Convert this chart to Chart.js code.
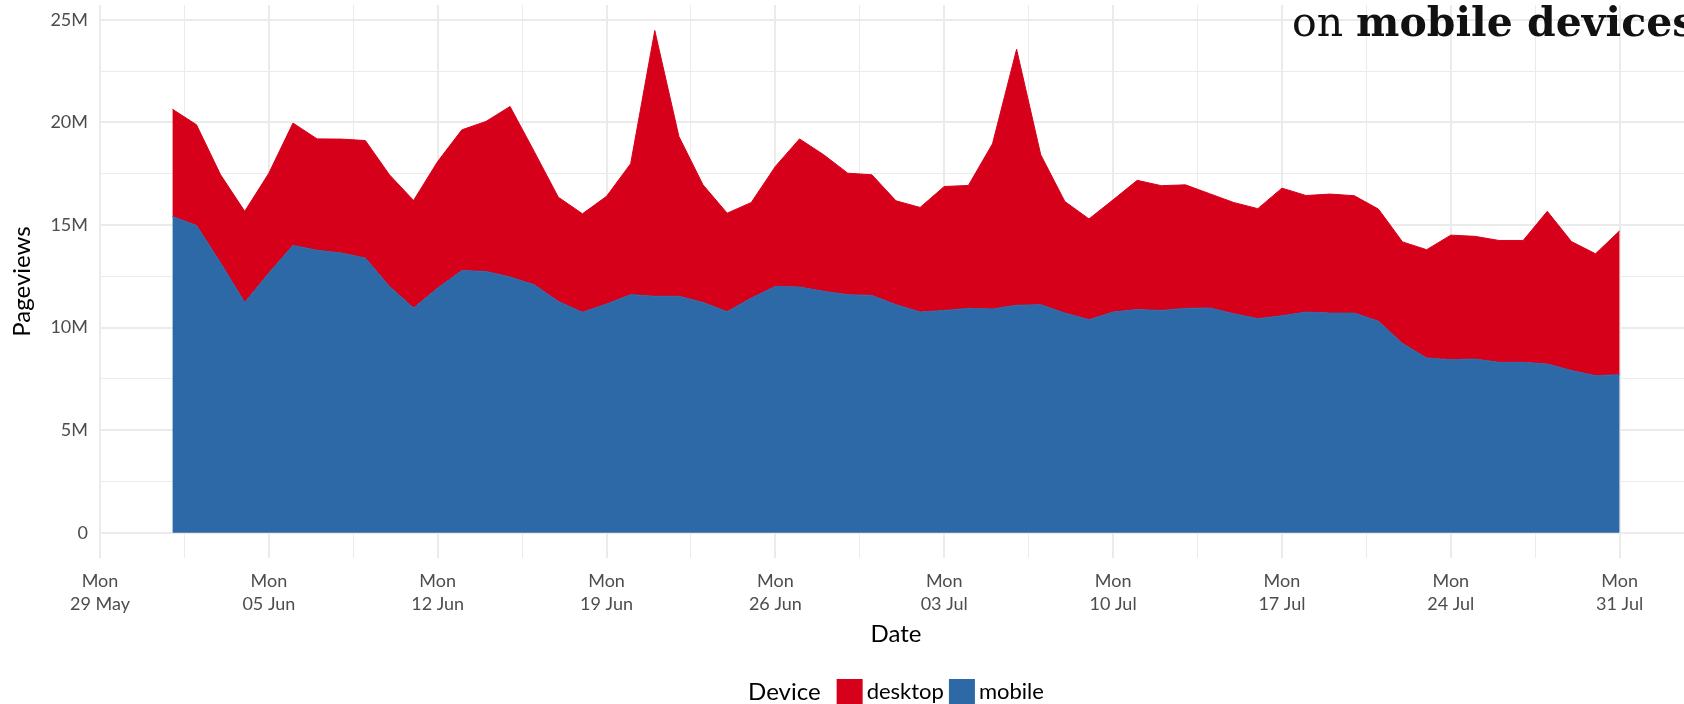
<!DOCTYPE html>
<html>
<head>
<meta charset="utf-8">
<title>Pageviews by device</title>
<script src="https://cdn.jsdelivr.net/npm/chart.js@4.4.0/dist/chart.umd.min.js"></script>
<style>
  html, body { margin: 0; padding: 0; background: #fff; overflow: hidden; }
  #frame { width: 1684px; height: 704px; overflow: hidden; }
  canvas { display: block; }
</style>
</head>
<body>
<div id="frame"><canvas id="pageviewsChart" width="1700" height="720"></canvas></div>
<script>
// =====================================
// DATA (pageviews, millions)
// =====================================
const axisStart = "2023-05-29";
const axisEnd = "2023-08-03";

const dates = [
  "2023-06-01", "2023-06-02", "2023-06-03", "2023-06-04", "2023-06-05", "2023-06-06", "2023-06-07",
  "2023-06-08", "2023-06-09", "2023-06-10", "2023-06-11", "2023-06-12", "2023-06-13", "2023-06-14",
  "2023-06-15", "2023-06-16", "2023-06-17", "2023-06-18", "2023-06-19", "2023-06-20", "2023-06-21",
  "2023-06-22", "2023-06-23", "2023-06-24", "2023-06-25", "2023-06-26", "2023-06-27", "2023-06-28",
  "2023-06-29", "2023-06-30", "2023-07-01", "2023-07-02", "2023-07-03", "2023-07-04", "2023-07-05",
  "2023-07-06", "2023-07-07", "2023-07-08", "2023-07-09", "2023-07-10", "2023-07-11", "2023-07-12",
  "2023-07-13", "2023-07-14", "2023-07-15", "2023-07-16", "2023-07-17", "2023-07-18", "2023-07-19",
  "2023-07-20", "2023-07-21", "2023-07-22", "2023-07-23", "2023-07-24", "2023-07-25", "2023-07-26",
  "2023-07-27", "2023-07-28", "2023-07-29", "2023-07-30", "2023-07-31"
];

const mobile = [
  15.42, 14.98, 13.15, 11.23, 12.66, 14.01, 13.77, 13.64, 13.39, 12.01,
  10.96, 11.93, 12.78, 12.74, 12.47, 12.09, 11.28, 10.75, 11.15, 11.61,
  11.53, 11.53, 11.23, 10.78, 11.44, 12.01, 11.98, 11.77, 11.61, 11.57,
  11.12, 10.76, 10.84, 10.94, 10.91, 11.09, 11.12, 10.71, 10.39, 10.76,
  10.88, 10.84, 10.94, 10.96, 10.68, 10.44, 10.58, 10.76, 10.71, 10.71,
  10.31, 9.23, 8.52, 8.44, 8.47, 8.31, 8.31, 8.23, 7.91, 7.66,
  7.71
];

const desktop = [
  5.23, 4.91, 4.30, 4.44, 4.87, 5.96, 5.43, 5.55, 5.73, 5.44,
  5.24, 6.17, 6.86, 7.31, 8.31, 6.50, 5.08, 4.80, 5.25, 6.38,
  12.95, 7.79, 5.73, 4.80, 4.66, 5.85, 7.22, 6.66, 5.92, 5.88,
  5.06, 5.10, 6.04, 5.99, 8.05, 12.48, 7.31, 5.44, 4.91, 5.47,
  6.30, 6.08, 6.02, 5.57, 5.42, 5.36, 6.22, 5.68, 5.80, 5.72,
  5.47, 4.95, 5.28, 6.07, 5.98, 5.94, 5.94, 7.44, 6.29, 5.94,
  7.01
];

const weekTicks = ["2023-05-29", "2023-06-05", "2023-06-12", "2023-06-19", "2023-06-26",
                   "2023-07-03", "2023-07-10", "2023-07-17", "2023-07-24", "2023-07-31"];
const weekLabels = ["29 May", "05 Jun", "12 Jun", "19 Jun", "26 Jun",
                    "03 Jul", "10 Jul", "17 Jul", "24 Jul", "31 Jul"];
const yTicks = [0, 5, 10, 15, 20, 25];
const yRange = [-1.225, 25.725];

const COLORS = { desktop: "#D7001A", mobile: "#2D69A7", grid: "#EBEBEB", tick: "#4D4D4D" };

// =====================================
// HELPERS
// =====================================
function dayOffset(d) {
  return (Date.parse(d) - Date.parse(axisStart)) / 86400000;
}

function withMinor(values) {
  const out = [];
  values.forEach((v, i) => {
    out.push({ value: v, major: true });
    if (i < values.length - 1) out.push({ value: (v + values[i + 1]) / 2, major: false });
  });
  return out;
}

const xMajor = weekTicks.map(dayOffset);
const xTickList = withMinor(xMajor);
const yTickList = withMinor(yTicks);

// =====================================
// DECORATIONS: headline + legend
// =====================================
const decorPlugin = {
  id: "decor",
  afterDraw(chart) {
    const ctx = chart.ctx;
    ctx.save();

    // headline fragment (cut off at the right, as in the source)
    ctx.fillStyle = "#111";
    ctx.textBaseline = "alphabetic";
    ctx.textAlign = "left";
    ctx.font = "41px 'DejaVu Serif'";
    const start = "on ";
    ctx.fillText(start, 1292, 36);
    const w = ctx.measureText(start).width;
    ctx.font = "bold 41px 'DejaVu Serif'";
    ctx.fillText("mobile devices", 1292 + w, 36);

    // legend
    const items = [
      { label: chart.data.datasets[1].label, color: chart.data.datasets[1].backgroundColor },
      { label: chart.data.datasets[0].label, color: chart.data.datasets[0].backgroundColor }
    ];
    const key = 26;
    const cy = 692;
    ctx.textBaseline = "middle";
    ctx.font = "24px Lato";
    const titleW = ctx.measureText("Device").width;
    ctx.font = "22px Lato";
    const labelW = items.map(it => ctx.measureText(it.label).width);
    const total = titleW + 16 + items.length * (key + 4) + labelW.reduce((a, b) => a + b, 0) + 5;
    const area = chart.chartArea;
    let x = (area.left + area.right) / 2 - total / 2;

    ctx.fillStyle = "#000";
    ctx.font = "24px Lato";
    ctx.fillText("Device", x, cy);
    x += titleW + 16;
    ctx.font = "22px Lato";
    items.forEach((it, i) => {
      ctx.fillStyle = it.color;
      ctx.fillRect(x, cy - key / 2, key, key);
      x += key + 4;
      ctx.fillStyle = "#000";
      ctx.fillText(it.label, x, cy);
      x += labelW[i] + 5;
    });

    ctx.restore();
  }
};

// =====================================
// CHART
// =====================================
Chart.defaults.font.family = "Lato";

const chartCanvas = document.getElementById("pageviewsChart");

new Chart(chartCanvas, {
  type: "line",
  data: {
    datasets: [
      {
        label: "mobile",
        data: mobile.map((v, i) => ({ x: dayOffset(dates[i]), y: v })),
        backgroundColor: COLORS.mobile,
        borderColor: COLORS.mobile,
        borderWidth: 1,
        pointRadius: 0,
        tension: 0,
        fill: "origin"
      },
      {
        label: "desktop",
        data: desktop.map((v, i) => ({ x: dayOffset(dates[i]), y: v })),
        backgroundColor: COLORS.desktop,
        borderColor: COLORS.desktop,
        borderWidth: 1,
        pointRadius: 0,
        tension: 0,
        fill: "-1"
      }
    ]
  },
  options: {
    responsive: false,
    animation: false,
    layout: { padding: { top: 5, right: 8, bottom: 71, left: 0 } },
    plugins: {
      legend: { display: false },
      tooltip: { enabled: false }
    },
    scales: {
      x: {
        type: "linear",
        min: dayOffset(axisStart),
        max: dayOffset(axisEnd),
        afterBuildTicks: scale => { scale.ticks = xTickList.map(t => ({ value: t.value })); },
        afterFit: scale => {
          scale.height = 91;
          scale.paddingLeft = 0;
          scale.paddingRight = 0;
        },
        border: { display: false },
        grid: {
          color: COLORS.grid,
          drawTicks: false,
          lineWidth: ctx => (ctx.tick && xMajor.includes(ctx.tick.value) ? 2 : 1)
        },
        ticks: {
          autoSkip: false,
          maxRotation: 0,
          padding: 12,
          color: COLORS.tick,
          font: { size: 18, lineHeight: 1.25 },
          callback: value => {
            const i = xMajor.indexOf(value);
            return i >= 0 ? ["Mon", weekLabels[i]] : "";
          }
        },
        title: {
          display: true,
          text: "Date",
          color: "#000",
          font: { size: 24 },
          padding: { top: 4, bottom: 0 }
        }
      },
      y: {
        stacked: true,
        min: yRange[0],
        max: yRange[1],
        afterBuildTicks: scale => { scale.ticks = yTickList.map(t => ({ value: t.value })); },
        afterFit: scale => {
          scale.width = 100;
          scale.paddingTop = 0;
          scale.paddingBottom = 0;
        },
        border: { display: false },
        grid: {
          color: COLORS.grid,
          drawTicks: false,
          lineWidth: ctx => (ctx.tick && yTicks.includes(ctx.tick.value) ? 2 : 1)
        },
        ticks: {
          padding: 12,
          color: COLORS.tick,
          font: { size: 18 },
          callback: value => (yTicks.includes(value) ? (value === 0 ? "0" : value + "M") : "")
        },
        title: {
          display: true,
          text: "Pageviews",
          color: "#000",
          font: { size: 24 },
          padding: { top: 8, bottom: 0 }
        }
      }
    }
  },
  plugins: [decorPlugin]
});
</script>
</body>
</html>
